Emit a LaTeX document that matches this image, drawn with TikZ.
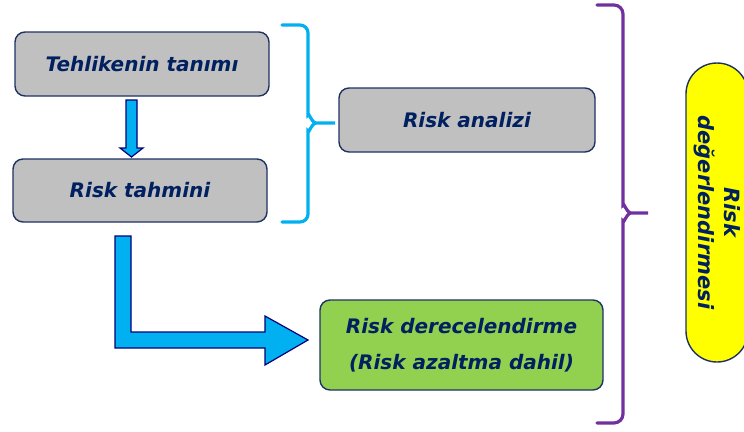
\documentclass[tikz,border=0pt]{standalone}
\usepackage{fontspec}
\setmainfont{DejaVu Sans}
\usetikzlibrary{calc}
\begin{document}
\definecolor{navytext}{RGB}{0,32,96}
\definecolor{navyline}{RGB}{31,50,100}
\definecolor{boxgray}{RGB}{192,192,192}
\definecolor{boxgreen}{RGB}{146,208,80}
\definecolor{pillyellow}{RGB}{255,255,0}
\definecolor{arrowcyan}{RGB}{0,176,240}
\definecolor{arrowedge}{RGB}{0,0,120}
\definecolor{bracecyan}{RGB}{0,176,240}
\definecolor{bracepurple}{RGB}{112,48,160}
\begin{tikzpicture}[x=1pt,y=-1pt,
  stepbox/.style={draw=navyline,line width=1.4pt,rounded corners=10pt,
    text=navytext,font=\fontsize{20}{36}\selectfont\bfseries\itshape,
    align=center,inner sep=0pt},
  blockarrow/.style={fill=arrowcyan,draw=arrowedge,line width=1.2pt,line join=miter},
  bracelink/.style={line width=3.2pt,line cap=round}
]
\useasboundingbox (0,0) rectangle (744,431);
\begin{scope}
\clip (0,0) rectangle (744,431);

% process boxes
\node[stepbox,fill=boxgray,minimum width=254pt,minimum height=64pt] (hazard) at (142,64) {Tehlikenin tanımı};
\node[stepbox,fill=boxgray,minimum width=254pt,minimum height=63pt] (estimate) at (140,190.5) {Risk tahmini};
\node[stepbox,fill=boxgray,minimum width=256pt,minimum height=64pt] (analysis) at (467,120) {Risk analizi};
\node[stepbox,fill=boxgreen,minimum width=283pt,minimum height=90pt] (rating) at (461.5,345) {Risk derecelendirme\\(Risk azaltma dahil)};
\node[stepbox,fill=pillyellow,rotate=-90,minimum width=299pt,minimum height=62pt,
  rounded corners=31pt,font=\fontsize{21}{26}\selectfont\bfseries\itshape] (assessment) at (717,212.5) {Risk\\değerlendirmesi};

% small arrow between the first two steps
\coordinate (a1) at (131.5,100);
\coordinate (a1tip) at (131.5,157);
\draw[blockarrow] ($(a1)+(-5.5,0)$) -- ($(a1)+(5.5,0)$) -- ($(a1tip)+(5.5,-9)$) -- ($(a1tip)+(11.5,-9)$)
  -- (a1tip) -- ($(a1tip)+(-11.5,-9)$) -- ($(a1tip)+(-5.5,-9)$) -- cycle;

% bent arrow to the rating step
\coordinate (b1tip) at (308,340);
\draw[blockarrow] (115,236) -- (131,236) -- (131,332) -- (265,332) -- (265,316)
  -- (b1tip) -- (265,365) -- (265,348) -- (115,348) -- cycle;

% brace grouping the first two steps
\coordinate (bt) at (282,25);
\coordinate (bb) at (282,222);
\coordinate (bm) at (335,123);
\draw[bracelink,draw=bracecyan] (bt) -- (300,25) to[out=0,in=90] (308,33) -- (308,115)
  to[out=90,in=180] (316,123) -- (bm) -- (316,123) to[out=180,in=-90] (308,131)
  -- (308,214) to[out=-90,in=0] (300,222) -- (bb);

% brace grouping the whole process
\coordinate (pt) at (597,5);
\coordinate (pb) at (597,423);
\coordinate (pm) at (648,213);
\draw[bracelink,draw=bracepurple] (pt) -- (614,5) to[out=0,in=90] (623,14) -- (623,205)
  to[out=90,in=180] (631,213) -- (pm) -- (631,213) to[out=180,in=-90] (623,221)
  -- (623,414) to[out=-90,in=0] (614,423) -- (pb);
\end{scope}
\end{tikzpicture}
\end{document}
